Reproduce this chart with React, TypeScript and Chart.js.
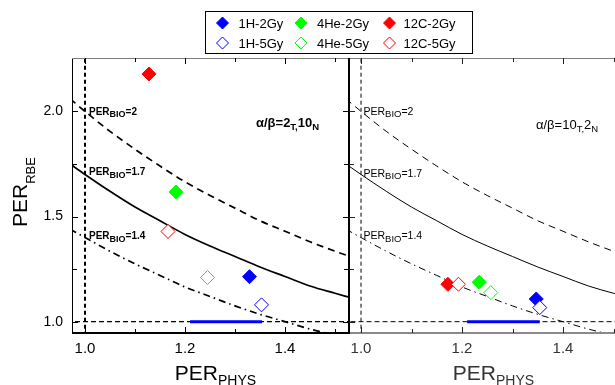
import React, { useEffect, useRef } from 'react';
import { Chart, registerables } from 'chart.js';

Chart.register(...registerables);

const FONT = '"Liberation Sans", Arial, Helvetica, sans-serif';

const categories = ['1H-2Gy', '4He-2Gy', '12C-2Gy', '1H-5Gy', '4He-5Gy', '12C-5Gy'];
const seriesColors = ['#0000ff', '#00ff00', '#ff0000', '#0000ff', '#00ff00', '#ff0000'];
const seriesFilled = [true, true, true, false, false, false];

// left panel (alpha/beta = 2_T, 10_N)
const leftX = [1.329, 1.182, 1.128, 1.353, 1.245, 1.166];
const leftY = [1.214, 1.617, 2.178, 1.08, 1.21, 1.429];
// right panel (alpha/beta = 10_T, 2_N)
const rightX = [1.347, 1.234, 1.172, 1.354, 1.257, 1.193];
const rightY = [1.108, 1.188, 1.178, 1.067, 1.138, 1.178];

// iso-PER_BIO curves
const curveX = [0.97, 1.0, 1.05, 1.1, 1.15, 1.2, 1.25, 1.3, 1.35, 1.4, 1.45, 1.5, 1.53];
const perBio20 = [2.06, 2.0, 1.905, 1.82, 1.74, 1.665, 1.6, 1.54, 1.48, 1.43, 1.38, 1.335, 1.31];
const perBio17 = [1.75, 1.7, 1.62, 1.545, 1.48, 1.415, 1.36, 1.31, 1.26, 1.215, 1.17, 1.135, 1.115];
const perBio14 = [1.44, 1.4, 1.335, 1.275, 1.22, 1.165, 1.12, 1.075, 1.035, 1.0, 0.965, 0.935, 0.915];

const bandX = [1.21, 1.354];
const bandY = [1.0, 1.0];

const xTickValues = [1.0, 1.2, 1.4];
const xTickLabels = ['1.0', '1.2', '1.4'];
const xMinorValues = [1.1, 1.3, 1.5];
const yTickValues = [1.0, 1.5, 2.0];
const yTickLabels = ['1.0', '1.5', '2.0'];
const yMinorValues = [1.25, 1.75];

const bioLabels = ['2', '1.7', '1.4'];
const leftBioLabelY = [2.0, 1.713, 1.408];
const rightBioLabelY = [2.0, 1.705, 1.408];
const leftRatio = ['2', '10'];
const rightRatio = ['10', '2'];

type Part = { t: string; size: number; dy?: number };

function drawRich(ctx: CanvasRenderingContext2D, parts: Part[], x: number, y: number, weight: string, color: string) {
  let cx = x;
  ctx.fillStyle = color;
  ctx.textAlign = 'left';
  ctx.textBaseline = 'alphabetic';
  for (const p of parts) {
    ctx.font = `${weight} ${p.size}px ${FONT}`;
    ctx.fillText(p.t, cx, y + (p.dy || 0));
    cx += ctx.measureText(p.t).width;
  }
  return cx - x;
}

function measureRich(ctx: CanvasRenderingContext2D, parts: Part[], weight: string) {
  let w = 0;
  for (const p of parts) {
    ctx.font = `${weight} ${p.size}px ${FONT}`;
    w += ctx.measureText(p.t).width;
  }
  return w;
}

function diamond(ctx: CanvasRenderingContext2D, cx: number, cy: number, r: number, color: string, filled: boolean) {
  ctx.beginPath();
  ctx.moveTo(cx - r, cy);
  ctx.lineTo(cx, cy - r);
  ctx.lineTo(cx + r, cy);
  ctx.lineTo(cx, cy + r);
  ctx.closePath();
  ctx.fillStyle = filled ? color : '#ffffff';
  ctx.fill();
  ctx.strokeStyle = color;
  ctx.lineWidth = 1;
  ctx.stroke();
}

type Panel = {
  side: 'left' | 'right';
  xs: number[];
  ys: number[];
  bioY: number[];
  ratio: string[];
  ratioAt: [number, number];
  weight: string;
  ink: string;
  lw: number;
  vlw: number;
  hlw: number;
  bioSize: number;
  bioSub: number;
  bioOffset: number;
  ratioSize: number;
  ratioSub: number;
  xMin: number;
  xMax: number;
  padLeft: number;
  padRight: number;
};

const leftPanel: Panel = {
  side: 'left', xs: leftX, ys: leftY, bioY: leftBioLabelY, ratio: leftRatio, ratioAt: [1.342, 1.925],
  weight: 'bold', ink: '#000', lw: 1.7, vlw: 2, hlw: 1.3, bioSize: 10, bioSub: 9, bioOffset: 4,
  ratioSize: 13, ratioSub: 9.5, xMin: 0.974, xMax: 1.528, padLeft: 0, padRight: 266,
};
const rightPanel: Panel = {
  side: 'right', xs: rightX, ys: rightY, bioY: rightBioLabelY, ratio: rightRatio, ratioAt: [1.3465, 1.916],
  weight: 'normal', ink: '#333', lw: 1, vlw: 1, hlw: 1, bioSize: 10.5, bioSub: 9.5, bioOffset: 2.5,
  ratioSize: 13, ratioSub: 9.5, xMin: 0.9762, xMax: 1.5287, padLeft: 349, padRight: 12,
};

const Y_MIN = 0.9462;
const Y_MAX = 2.2538;

function drawDecor(chart: any, p: Panel) {
  const ctx: CanvasRenderingContext2D = chart.ctx;
  const a = chart.chartArea;
  const xs = chart.scales.x;
  const ys = chart.scales.y;
  const w = a.right - a.left;
  const h = a.bottom - a.top;
  ctx.save();
  // frame
  if (p.side === 'left') {
    ctx.fillStyle = '#000';
    ctx.fillRect(a.left, a.top, 1, h);
    ctx.fillStyle = '#808080';
    ctx.fillRect(a.left, a.top, w, 1);
    ctx.fillStyle = '#000';
    ctx.fillRect(a.left, a.bottom - 1, w, 2);
    ctx.fillRect(a.right - 1, a.top, 2, h + 1);
  } else {
    ctx.fillStyle = '#808080';
    ctx.fillRect(a.left, a.top, w, 1);
    ctx.fillStyle = '#8a8a8a';
    ctx.fillRect(a.left, a.bottom - 1, w, 2);
    ctx.fillStyle = '#000';
    ctx.fillRect(a.left - 1, a.top, 2, h + 1);
  }
  // tick marks (inward, mirrored)
  ctx.fillStyle = p.side === 'left' ? '#000' : '#222';
  const xt: [number, number][] = [...xTickValues.map((v) => [v, 6] as [number, number]), ...xMinorValues.map((v) => [v, 4] as [number, number])];
  for (const [v, len] of xt) {
    const px = Math.round(xs.getPixelForValue(v));
    if (px < a.left || px > a.right) continue;
    ctx.fillRect(px, a.bottom - len, 1, len);
    ctx.fillRect(px, a.top, 1, len);
  }
  const yt: [number, number][] = [...yTickValues.map((v) => [v, 6] as [number, number]), ...yMinorValues.map((v) => [v, 5] as [number, number])];
  for (const [v, len] of yt) {
    const py = Math.round(ys.getPixelForValue(v));
    ctx.fillRect(a.left, py, len, 1);
    ctx.fillRect(a.right - len, py, len, 1);
  }
  // PER_BIO labels
  const x0 = xs.getPixelForValue(1.0) + p.bioOffset;
  bioLabels.forEach((b, k) => {
    const base = ys.getPixelForValue(p.bioY[k]) + 3.5;
    drawRich(ctx, [
      { t: 'PER', size: p.bioSize },
      { t: 'BIO', size: p.bioSub, dy: 2.5 },
      { t: '=' + b, size: p.bioSize },
    ], x0, base, p.weight, '#000');
  });
  // alpha/beta label
  drawRich(ctx, [
    { t: 'α/β=' + p.ratio[0], size: p.ratioSize },
    { t: 'T,', size: p.ratioSub, dy: 3 },
    { t: p.ratio[1], size: p.ratioSize },
    { t: 'N', size: p.ratioSub, dy: 3 },
  ], xs.getPixelForValue(p.ratioAt[0]), ys.getPixelForValue(p.ratioAt[1]), p.weight, '#000');
  // x title
  const xt2: Part[] = [{ t: 'PER', size: 21 }, { t: 'PHYS', size: 14, dy: 5 }];
  const tw = measureRich(ctx, xt2, 'normal');
  drawRich(ctx, xt2, (a.left + a.right) / 2 + 5 - tw / 2, 380, 'normal', p.ink);
  // y title (left only)
  if (p.side === 'left') {
    ctx.save();
    ctx.translate(27, 227);
    ctx.rotate(-Math.PI / 2);
    drawRich(ctx, [{ t: 'PER', size: 21 }, { t: 'RBE', size: 13, dy: 8 }], 0, 0, 'normal', '#000');
    ctx.restore();
  }
  ctx.restore();
}

function drawLegend(chart: any) {
  const ctx: CanvasRenderingContext2D = chart.ctx;
  ctx.save();
  ctx.fillStyle = '#fff';
  ctx.fillRect(206, 12, 266, 41);
  ctx.strokeStyle = '#000';
  ctx.lineWidth = 1;
  ctx.strokeRect(205.5, 11.5, 267, 42);
  const colX = [222.5, 301, 389.5];
  const textX = [238.5, 317, 403.5];
  const rowY = [23, 43];
  categories.forEach((c, i) => {
    const col = i % 3;
    const cy = rowY[Math.floor(i / 3)];
    diamond(ctx, colX[col], cy, 6, seriesColors[i], seriesFilled[i]);
    ctx.fillStyle = '#000';
    ctx.font = `13px ${FONT}`;
    ctx.textAlign = 'left';
    ctx.textBaseline = 'middle';
    ctx.fillText(c, textX[col], cy + 1);
  });
  ctx.restore();
}

function labelFor(values: number[], labels: string[], v: any) {
  const i = values.findIndex((t) => Math.abs(t - Number(v)) < 1e-6);
  return i >= 0 ? labels[i] : '';
}

function makeChart(canvas: HTMLCanvasElement, p: Panel) {
  const pts = (xa: number[], ya: number[]) => xa.map((x, i) => ({ x, y: ya[i] }));
  const lineDs = (data: any[], dash: number[], width: number, color = '#000', order = 10, smooth = true) => ({
    data,
    showLine: true,
    borderColor: color,
    borderWidth: width,
    borderDash: dash,
    pointRadius: 0,
    fill: false,
    cubicInterpolationMode: smooth ? 'monotone' : 'default',
    order,
  });
  const datasets: any[] = [
    lineDs(pts(curveX, perBio20), [7, 5], p.lw),
    lineDs(pts(curveX, perBio17), [], p.lw),
    lineDs(pts(curveX, perBio14), [7, 4, 1.5, 4], p.lw),
    lineDs([{ x: 1, y: 0.9 }, { x: 1, y: 2.3 }], [4, 3], p.vlw, '#000', 10, false),
    lineDs([{ x: 0.9, y: 1 }, { x: 1.6, y: 1 }], [5, 3], p.hlw, '#000', 10, false),
    lineDs(pts(bandX, bandY), [], 3, '#0000ff', 8, false),
    ...categories.map((c, i) => ({
      label: c,
      data: [{ x: p.xs[i], y: p.ys[i] }],
      showLine: false,
      pointStyle: 'rectRot',
      pointRadius: 7,
      pointBackgroundColor: seriesFilled[i] ? seriesColors[i] : '#ffffff',
      backgroundColor: seriesFilled[i] ? seriesColors[i] : '#ffffff',
      pointBorderColor: seriesColors[i],
      borderColor: seriesColors[i],
      pointBorderWidth: 1,
      order: seriesFilled[i] ? 5 : 1,
    })),
  ];
  const plugin = {
    id: 'decor_' + p.side,
    afterDatasetsDraw(chart: any) {
      drawDecor(chart, p);
    },
    afterDraw(chart: any) {
      if (p.side === 'left') drawLegend(chart);
    },
  };
  return new Chart(canvas, {
    type: 'scatter',
    data: { datasets },
    options: {
      responsive: false,
      animation: false,
      devicePixelRatio: 1,
      events: [],
      layout: { padding: { left: p.padLeft, right: p.padRight, top: 58, bottom: 0 } },
      plugins: { legend: { display: false }, tooltip: { enabled: false } },
      scales: {
        x: {
          type: 'linear',
          min: p.xMin,
          max: p.xMax,
          grid: { display: false, drawTicks: false },
          border: { display: false },
          afterBuildTicks: (s: any) => {
            s.ticks = xTickValues.map((v) => ({ value: v }));
          },
          afterFit: (s: any) => {
            s.height = 52;
          },
          ticks: {
            padding: 7,
            maxRotation: 0,
            autoSkip: false,
            color: p.ink,
            font: { family: FONT, size: 15 },
            callback: (v: any) => labelFor(xTickValues, xTickLabels, v),
          },
        },
        y: {
          type: 'linear',
          display: p.side === 'left',
          min: Y_MIN,
          max: Y_MAX,
          grid: { display: false, drawTicks: false },
          border: { display: false },
          afterBuildTicks: (s: any) => {
            s.ticks = yTickValues.map((v) => ({ value: v }));
          },
          afterFit: (s: any) => {
            if (p.side === 'left') s.width = 72;
          },
          ticks: {
            padding: 9,
            autoSkip: false,
            color: '#000',
            font: { family: FONT, size: 14 },
            callback: (v: any) => labelFor(yTickValues, yTickLabels, v),
          },
        },
      },
    } as any,
    plugins: [plugin],
  });
}

export default function App() {
  const leftRef = useRef<HTMLCanvasElement>(null);
  const rightRef = useRef<HTMLCanvasElement>(null);
  useEffect(() => {
    document.body.style.margin = '0';
    const c1 = makeChart(leftRef.current!, leftPanel);
    const c2 = makeChart(rightRef.current!, rightPanel);
    return () => {
      c1.destroy();
      c2.destroy();
    };
  }, []);
  return (
    <div style={{ position: 'relative', width: 615, height: 385, overflow: 'hidden', background: '#fff' }}>
      <canvas ref={leftRef} width={615} height={385} style={{ position: 'absolute', left: 0, top: 0 }} />
      <canvas ref={rightRef} width={640} height={385} style={{ position: 'absolute', left: 0, top: 0 }} />
    </div>
  );
}
